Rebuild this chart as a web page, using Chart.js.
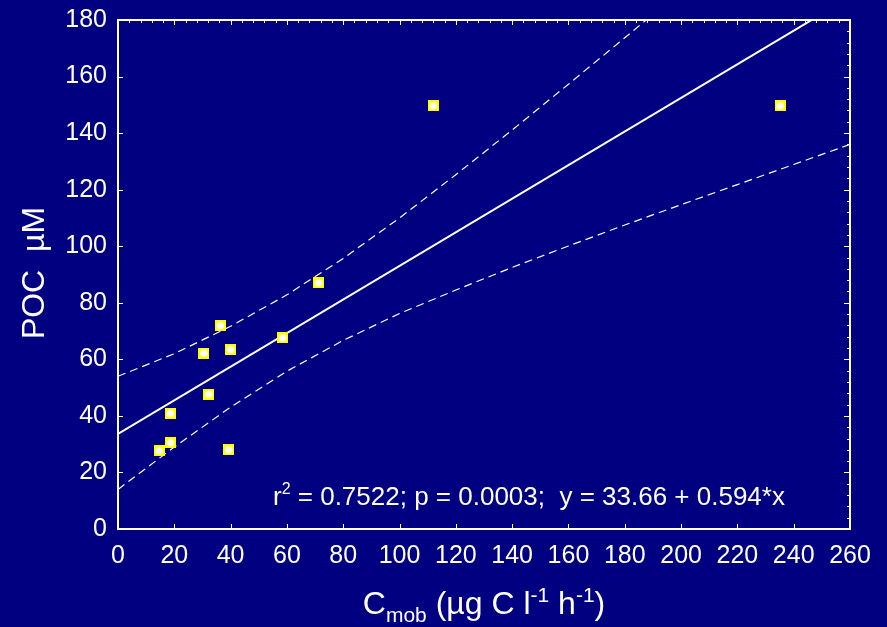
<!DOCTYPE html>
<html>
<head>
<meta charset="utf-8">
<script src="https://cdn.jsdelivr.net/npm/chart.js@4/dist/chart.umd.min.js"></script>
<style>
  html, body { margin: 0; padding: 0; background: #000080; }
  #wrap { width: 887px; height: 627px; position: relative; }
</style>
</head>
<body>
<div id="wrap"><canvas id="chart"></canvas></div>
<script>
// measured samples
const cmob = [14.6, 18.6, 18.6, 30.5, 32.3, 36.4, 40.0, 39.4, 58.5, 71.3, 112, 235.2];
const poc  = [27.6, 40.9, 30.5, 62.2, 47.7, 71.9, 63.4, 28.0, 67.6, 87.0, 149.6, 149.6];

// regression line, y = 33.66 + 0.594*x
const fitX = [0, 260];
const fitY = [33.66, 188.1];

// 95% confidence band
const bandX     = [0, 20, 40, 60, 80, 100, 120, 140, 160, 180, 200, 220];
const bandUpper = [54, 62, 71.7, 82.8, 95.7, 110, 125.3, 141.1, 157.3, 173.7, 190.3, 207];
const bandLower = [14, 29, 43.1, 55.8, 66.7, 76.2, 84.5, 92.5, 100.1, 107.5, 114.7, 121.8];
const bandX2    = [240, 260];
const lowerTail = [128.9, 136];

const xTicks = [0, 20, 40, 60, 80, 100, 120, 140, 160, 180, 200, 220, 240, 260];
const yTicks = [0, 20, 40, 60, 80, 100, 120, 140, 160, 180];

const statText = ['r', '2', ' = 0.7522; p = 0.0003;  y = 33.66 + 0.594*x'];

const BG   = '#000080';
const FONT = '"Liberation Sans", Arial, sans-serif';

function pairs(xs, ys) {
  return xs.map((x, i) => ({ x, y: ys[i] }));
}

// yellow square with a white dot
function makeMarker() {
  const c = document.createElement('canvas');
  c.width = 11; c.height = 11;
  const g = c.getContext('2d');
  g.fillStyle = '#ffff00';
  g.fillRect(0, 0, 11, 11);
  g.fillStyle = '#ffffff';
  g.beginPath();
  g.arc(5.5, 5.5, 3.6, 0, Math.PI * 2);
  g.fill();
  return c;
}

const frame = {
  id: 'frame',
  beforeDraw(chart) {
    const ctx = chart.ctx;
    ctx.save();
    ctx.fillStyle = BG;
    ctx.fillRect(0, 0, chart.width, chart.height);
    ctx.restore();
  },
  afterDraw(chart) {
    const { ctx, chartArea: a, scales: { x, y } } = chart;
    ctx.save();
    ctx.strokeStyle = '#ffffff';
    ctx.lineWidth = 1;
    ctx.beginPath();
    // bottom / left: major ticks only
    xTicks.forEach(v => {
      const px = Math.round(x.getPixelForValue(v)) + 0.5;
      ctx.moveTo(px, a.bottom); ctx.lineTo(px, a.bottom - 5);
    });
    yTicks.forEach(v => {
      const py = Math.round(y.getPixelForValue(v)) + 0.5;
      ctx.moveTo(a.left, py); ctx.lineTo(a.left + 5, py);
    });
    // top / right: minor every 4
    for (let v = 0; v <= 260; v += 4) {
      const px = Math.round(x.getPixelForValue(v)) + 0.5;
      const len = v % 20 === 0 ? 5 : 3;
      ctx.moveTo(px, a.top); ctx.lineTo(px, a.top + len);
    }
    for (let v = 0; v <= 180; v += 4) {
      const py = Math.round(y.getPixelForValue(v)) + 0.5;
      const len = v % 20 === 0 ? 6 : 3;
      ctx.moveTo(a.right, py); ctx.lineTo(a.right - len, py);
    }
    ctx.stroke();

    ctx.lineWidth = 2;
    ctx.strokeRect(a.left, a.top, a.right - a.left, a.bottom - a.top);

    ctx.fillStyle = '#ffffff';
    ctx.textBaseline = 'alphabetic';

    // stats line
    let cx = 273;
    ctx.font = '26px ' + FONT;
    ctx.fillText(statText[0], cx, 505);
    cx += ctx.measureText(statText[0]).width;
    ctx.font = '16px ' + FONT;
    ctx.fillText(statText[1], cx, 494);
    cx += ctx.measureText(statText[1]).width;
    ctx.font = '26px ' + FONT;
    ctx.fillText(statText[2], cx, 505);

    // x title with sub/superscripts
    const parts = [
      ['C', 32, 0], ['mob', 21, 8], [' (\u00b5g C l', 32, 0], ['-1', 21, -12],
      [' h', 32, 0], ['-1', 21, -12], [')', 32, 0]
    ];
    let w = 0;
    parts.forEach(p => { ctx.font = p[1] + 'px ' + FONT; w += ctx.measureText(p[0]).width; });
    cx = 484 - w / 2;
    parts.forEach(p => {
      ctx.font = p[1] + 'px ' + FONT;
      ctx.fillText(p[0], cx, 614 + p[2]);
      cx += ctx.measureText(p[0]).width;
    });

    // y title
    ctx.translate(44, 273);
    ctx.rotate(-Math.PI / 2);
    ctx.font = '32px ' + FONT;
    ctx.textAlign = 'center';
    ctx.fillText('POC  \u00b5M', 0, 0);
    ctx.restore();
  }
};

const dashed = {
  showLine: true, pointRadius: 0, borderColor: '#ffffff',
  borderWidth: 1.2, borderDash: [8, 5], fill: false, order: 2
};

new Chart(document.getElementById('chart'), {
  type: 'scatter',
  data: {
    datasets: [
      {
        data: pairs(cmob, poc),
        pointStyle: makeMarker(),
        pointRadius: 5.5,
        order: 0
      },
      {
        data: pairs(fitX, fitY),
        showLine: true, pointRadius: 0,
        borderColor: '#ffffff', borderWidth: 2, order: 1
      },
      Object.assign({ data: pairs(bandX, bandUpper) }, dashed),
      Object.assign({ data: pairs(bandX.concat(bandX2), bandLower.concat(lowerTail)) }, dashed)
    ]
  },
  options: {
    responsive: true,
    maintainAspectRatio: false,
    animation: false,
    layout: { padding: { top: 20, right: 37, bottom: 0, left: 0 } },
    plugins: { legend: { display: false }, tooltip: { enabled: false } },
    scales: {
      x: {
        type: 'linear', min: 0, max: 260,
        afterBuildTicks: s => { s.ticks = xTicks.map(v => ({ value: v })); },
        afterFit: s => { s.height = 98; s.paddingLeft = 0; s.paddingRight = 0; },
        grid: { display: false, drawTicks: false }, border: { display: false },
        ticks: { color: '#ffffff', font: { family: FONT, size: 25 }, padding: 12, maxRotation: 0, autoSkip: false }
      },
      y: {
        type: 'linear', min: 0, max: 180,
        afterBuildTicks: s => { s.ticks = yTicks.map(v => ({ value: v })); },
        afterFit: s => { s.width = 118; s.paddingTop = 0; s.paddingBottom = 0; },
        grid: { display: false, drawTicks: false }, border: { display: false },
        ticks: { color: '#ffffff', font: { family: FONT, size: 25 }, padding: 11, autoSkip: false }
      }
    }
  },
  plugins: [frame]
});
</script>
</body>
</html>
